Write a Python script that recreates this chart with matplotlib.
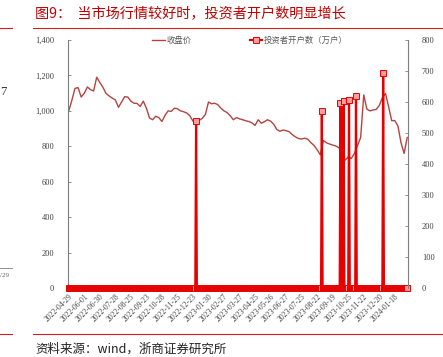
import numpy as np
import matplotlib.pyplot as plt
from matplotlib.ticker import FuncFormatter, MultipleLocator

plt.rcParams['font.family'] = ['Noto Sans CJK SC', 'DejaVu Sans']

# --- dados ---
n_days = 437          # dias úteis de 2022-04-29 até ~2024-02-05
step = 4              # fechamento lido a cada 4 pregões

close = [1000, 1060, 1127, 1131, 1078, 1100, 1135, 1120, 1112, 1190,
         1160, 1133, 1098, 1084, 1072, 1062, 1020, 1050, 1080, 1078,
         1055, 1043, 1042, 1025, 1055, 1015, 960, 950, 970, 962,
         940, 975, 1000, 997, 1015, 1012, 1000, 995, 988, 972,
         942, 939, 946, 958, 980, 1050, 1040, 1043, 1035, 1015,
         1000, 990, 972, 950, 962, 955, 950, 944, 940, 932,
         918, 950, 930, 939, 950, 942, 925, 895, 885, 892,
         888, 882, 866, 853, 844, 841, 846, 840, 820, 805,
         780, 752, 833, 820, 813, 807, 802, 792, 760, 722,
         740, 732, 760, 805, 850, 1090, 1010, 1000, 1005, 1008,
         1030, 1075, 1098, 1024, 945, 945, 915, 820, 760, 850]

acct_day = [164, 326, 350, 354, 361, 370, 405]
acct_val = [540, 572, 598, 602, 605, 620, 695]

tick_labels = ["2022-04-29", "2022-06-01", "2022-06-30", "2022-07-28", "2022-08-25",
               "2022-09-23", "2022-10-28", "2022-11-25", "2022-12-23", "2023-01-30",
               "2023-02-27", "2023-03-27", "2023-04-25", "2023-05-26", "2023-06-27",
               "2023-07-25", "2023-08-22", "2023-09-19", "2023-10-25", "2023-11-22",
               "2023-12-20", "2024-01-18"]

red = "#e60000"
price_color = "#b5433f"
gray = "#7f7f7f"
serif = ["Liberation Serif", "DejaVu Serif"]

x_close = np.arange(len(close)) * step
acct = np.zeros(n_days)
acct[acct_day] = acct_val
x_acct = np.arange(n_days)

fig = plt.figure(figsize=(4.43, 3.57), dpi=100)
ax1 = fig.add_axes([0.1535, 0.193, 0.7675, 0.695])
ax2 = ax1.twinx()

l1, = ax1.plot(x_close, close, color=price_color, lw=1.0, label="收盘价")
l2, = ax2.plot(x_acct, acct, color=red, lw=1.6, marker="s", ms=3.8,
               mfc="#ff9c9c", mec=red, mew=0.7, clip_on=False,
               label="投资者开户数（万户）")

ax1.set_xlim(-1, n_days)
ax1.set_ylim(0, 1400)
ax2.set_ylim(0, 800)
ax1.yaxis.set_major_locator(MultipleLocator(200))
ax2.yaxis.set_major_locator(MultipleLocator(100))
ax1.yaxis.set_major_formatter(FuncFormatter(lambda v, p: f"{v:,.0f}"))

ax1.set_xticks(np.arange(len(tick_labels)) * 20)
ax1.set_xticklabels(tick_labels, rotation=45, ha="right", rotation_mode="anchor",
                    fontsize=5.5, family=serif, color="#404040")
ax1.tick_params(axis="x", length=0, pad=3)

for ax in (ax1, ax2):
    ax.tick_params(axis="y", direction="in", length=2.5, width=0.6, color=gray,
                   labelsize=6, labelcolor="#404040", pad=10)
    for s in ("top", "bottom"):
        ax.spines[s].set_visible(False)
    ax.spines["left"].set_color(gray)
    ax.spines["right"].set_color(gray)
    for lab in ax.get_yticklabels():
        lab.set_family(serif)
ax2.spines["left"].set_visible(False)
ax1.spines["right"].set_visible(False)

leg = ax1.legend(handles=[l1, l2], loc="lower center", bbox_to_anchor=(0.535, 0.965),
                 ncol=2, frameon=False, fontsize=6, handlelength=1.5,
                 handletextpad=0.2, columnspacing=7, borderaxespad=0)
for t in leg.get_texts():
    t.set_color("#595959")

# título e moldura do relatório
fig.text(0.079, 0.961, "图9：  当市场行情较好时，投资者开户数明显增长", color="#c00000",
         fontsize=10.2, va="center", ha="left")
fig.add_artist(plt.Line2D([0.075, 1.0], [0.922, 0.922], color="#d62020", lw=0.8))
fig.add_artist(plt.Line2D([0.0, 0.027], [0.922, 0.922], color="#d62020", lw=0.8))
fig.add_artist(plt.Line2D([0.075, 1.0], [0.064, 0.064], color="#d62020", lw=0.8))
fig.add_artist(plt.Line2D([0.0, 0.027], [0.064, 0.064], color="#d62020", lw=0.8))
fig.add_artist(plt.Line2D([0.0, 0.027], [0.249, 0.249], color=gray, lw=0.6))
fig.text(0.0, 0.742, "7", fontsize=9, family=serif, color="#333333", va="center")
fig.text(0.0, 0.228, "/29", fontsize=5, family=serif, color="#666666", va="center")
fig.text(0.079, 0.022, "资料来源：wind，浙商证券研究所", fontsize=9, color="#222222",
         va="center", ha="left")

fig.savefig("out.png", dpi=100)
